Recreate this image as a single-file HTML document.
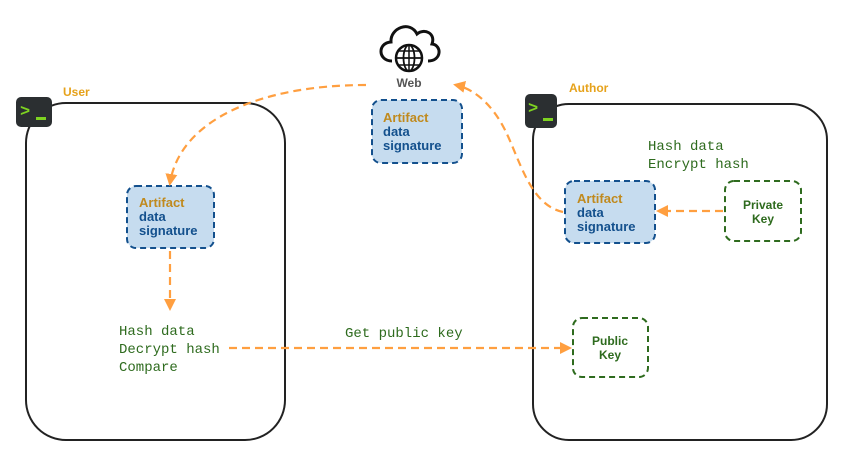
<!DOCTYPE html>
<html><head><meta charset="utf-8"><style>
html,body{margin:0;padding:0;background:#fff;}
svg{display:block}
.s{font-family:"Liberation Sans",sans-serif;font-weight:bold;font-size:12px}
.m{font-family:"Liberation Mono",monospace;font-size:14px;fill:#2e6b1e}
</style></head><body>
<svg width="850" height="464" viewBox="0 0 850 464" xmlns="http://www.w3.org/2000/svg">
<defs>
<marker id="ar" markerWidth="12" markerHeight="12" refX="9" refY="6" orient="auto" markerUnits="userSpaceOnUse">
<path d="M0,0 L12,6 L0,12 z" fill="#ff9f40"/></marker>
</defs>
<rect x="26" y="103" width="259" height="337" rx="40" fill="none" stroke="#222" stroke-width="2"/>
<rect x="533" y="104" width="294" height="336" rx="36" fill="none" stroke="#222" stroke-width="2"/>
<g><rect x="16" y="97" width="36" height="30" rx="5" fill="#2b2f31"/>
<text x="20" y="116" font-family="Liberation Mono,monospace" font-weight="bold" font-size="17" fill="#7ed321">&gt;</text>
<rect x="36" y="117" width="10" height="3" fill="#7ed321"/></g>
<g><rect x="525" y="94" width="32" height="34" rx="5" fill="#2b2f31"/>
<text x="528" y="113" font-family="Liberation Mono,monospace" font-weight="bold" font-size="17" fill="#7ed321">&gt;</text>
<rect x="543" y="118" width="10" height="3" fill="#7ed321"/></g>
<text x="63" y="96" class="s" fill="#e6a21b">User</text>
<text x="569" y="92" class="s" fill="#e6a21b">Author</text>
<path d="M392,61 C378,61 377,43 391,42 C390,28 410,20 417,34 C424,28 436,33 432,44 C442,45 442,61 428,61" fill="none" stroke="#111" stroke-width="3"/>
<circle cx="409" cy="58" r="13" fill="#fff" stroke="#111" stroke-width="2.5"/>
<ellipse cx="409" cy="58" rx="5.5" ry="13" fill="none" stroke="#111" stroke-width="1.8"/>
<line x1="396" y1="58" x2="422" y2="58" stroke="#111" stroke-width="1.8"/>
<line x1="398" y1="51" x2="420" y2="51" stroke="#111" stroke-width="1.5"/>
<line x1="398" y1="65" x2="420" y2="65" stroke="#111" stroke-width="1.5"/>
<line x1="409" y1="45" x2="409" y2="71" stroke="#111" stroke-width="1.5"/>
<text x="409" y="87" class="s" text-anchor="middle" fill="#555" font-size="11">Web</text>
<g font-family="Liberation Sans,sans-serif" font-weight="bold" font-size="13">
<rect x="372" y="100" width="90" height="63" rx="9" fill="#c6dcef" stroke="#13508d" stroke-width="2" stroke-dasharray="6,4"/>
<text x="383" y="122" fill="#c08a1e">Artifact</text><text x="383" y="136" fill="#13508d">data</text><text x="383" y="150" fill="#13508d">signature</text>
<rect x="127" y="186" width="87" height="62" rx="9" fill="#c6dcef" stroke="#13508d" stroke-width="2" stroke-dasharray="6,4"/>
<text x="139" y="207" fill="#c08a1e">Artifact</text><text x="139" y="221" fill="#13508d">data</text><text x="139" y="235" fill="#13508d">signature</text>
<rect x="565" y="181" width="90" height="62" rx="9" fill="#c6dcef" stroke="#13508d" stroke-width="2" stroke-dasharray="6,4"/>
<text x="577" y="203" fill="#c08a1e">Artifact</text><text x="577" y="217" fill="#13508d">data</text><text x="577" y="231" fill="#13508d">signature</text>
<rect x="725" y="181" width="76" height="60" rx="9" fill="none" stroke="#2e6b1e" stroke-width="2" stroke-dasharray="6,4"/>
<text x="763" y="209" text-anchor="middle" fill="#2e6b1e" font-size="12">Private</text><text x="763" y="223" text-anchor="middle" fill="#2e6b1e" font-size="12">Key</text>
<rect x="573" y="318" width="75" height="59" rx="9" fill="none" stroke="#2e6b1e" stroke-width="2" stroke-dasharray="6,4"/>
<text x="610" y="345" text-anchor="middle" fill="#2e6b1e" font-size="12">Public</text><text x="610" y="359" text-anchor="middle" fill="#2e6b1e" font-size="12">Key</text>
</g>
<text x="648" y="150" class="m">Hash data</text>
<text x="648" y="168" class="m">Encrypt hash</text>
<text x="119" y="335" class="m">Hash data</text>
<text x="119" y="353" class="m">Decrypt hash</text>
<text x="119" y="371" class="m">Compare</text>
<text x="345" y="337" class="m">Get public key</text>
<g fill="none" stroke="#ff9f40" stroke-width="2.2" stroke-dasharray="8,5">
<path d="M366,85 C260,85 180,120 170,183" marker-end="url(#ar)"/>
<path d="M563,212 C530,205 520,160 505,130 C490,100 470,88 456,85" marker-end="url(#ar)"/>
<path d="M723,211 L659,211" marker-end="url(#ar)"/>
<path d="M170,251 L170,308" marker-end="url(#ar)"/>
<path d="M229,348 L569,348" marker-end="url(#ar)"/>
</g>
</svg>
</body></html>
